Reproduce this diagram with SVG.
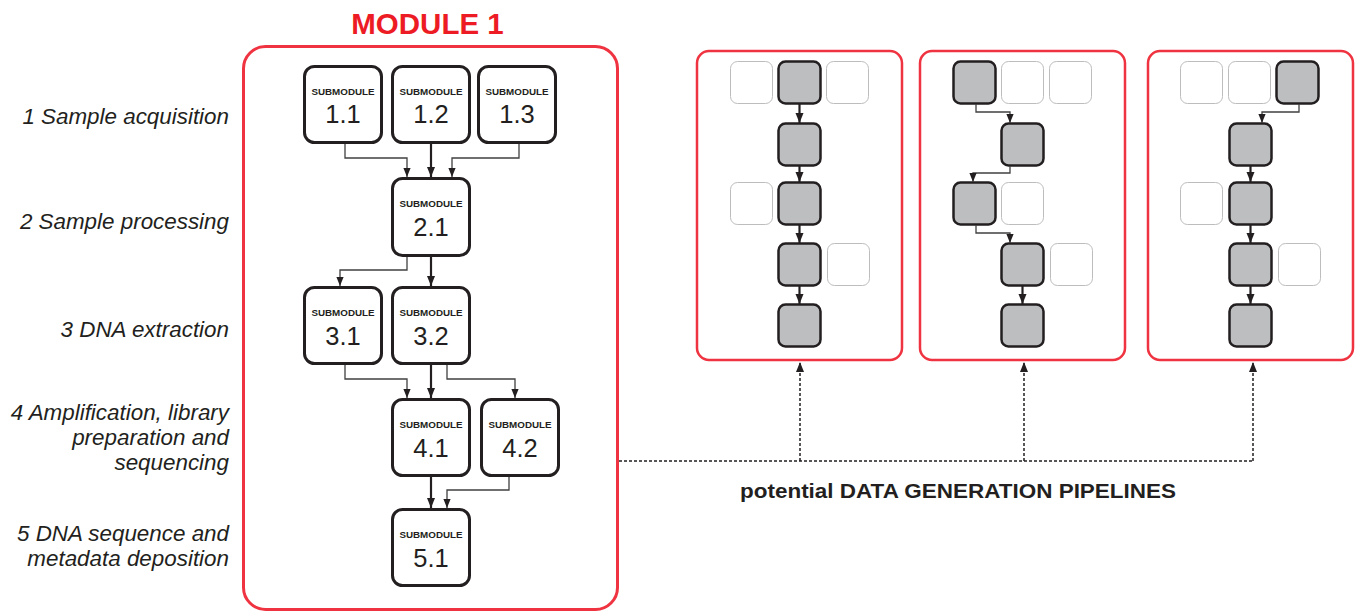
<svg xmlns="http://www.w3.org/2000/svg" width="1360" height="612" viewBox="0 0 1360 612">
<style>
.lbl{font-family:"Liberation Sans",Arial,sans-serif;font-style:italic;font-size:22.4px;fill:#231f20;text-anchor:end}
.sm{fill:#fff;stroke:#231f20;stroke-width:3}
.smt{font-family:"Liberation Sans",Arial,sans-serif;font-weight:bold;font-size:9.8px;fill:#231f20;text-anchor:middle}
.smn{font-family:"Liberation Sans",Arial,sans-serif;font-size:25.5px;fill:#231f20;text-anchor:middle}
.panel{fill:#fff;stroke:#ef3340;stroke-width:2.5}
.g{fill:#bcbec0;stroke:#231f20;stroke-width:2.5}
.w{fill:#fff;stroke:#bdbdbd;stroke-width:1}
.thick{fill:none;stroke:#231f20;stroke-width:2.2}
.thin{fill:none;stroke:#404040;stroke-width:1.3}
.dash{fill:none;stroke:#231f20;stroke-width:1.5;stroke-dasharray:3 2}
</style>
<defs>
<marker id="ah" markerUnits="userSpaceOnUse" markerWidth="10" markerHeight="10" viewBox="0 0 10 10" refX="10" refY="5" orient="auto">
<path d="M0,1 L10,5 L0,9 Z" fill="#231f20"/>
</marker>
<marker id="ahs" markerUnits="userSpaceOnUse" markerWidth="9" markerHeight="9" viewBox="0 0 10 10" refX="10" refY="5" orient="auto">
<path d="M0,1 L10,5 L0,9 Z" fill="#231f20"/>
</marker>
</defs>
<rect width="1360" height="612" fill="#fff"/>

<g id="stage-labels">
<text class="lbl" x="229" y="124">1 Sample acquisition</text>
<text class="lbl" x="229" y="229">2 Sample processing</text>
<text class="lbl" x="229" y="337">3 DNA extraction</text>
<text class="lbl" x="229" y="420">4 Amplification, library</text>
<text class="lbl" x="229" y="445">preparation and</text>
<text class="lbl" x="229" y="470">sequencing</text>
<text class="lbl" x="229" y="541">5 DNA sequence and</text>
<text class="lbl" x="229" y="566">metadata deposition</text>
</g>

<g id="module1">
<text x="427.5" y="34" font-family="'Liberation Sans',Arial,sans-serif" font-weight="bold" font-size="29.5" fill="#ed1c24" text-anchor="middle">MODULE 1</text>
<rect x="243.5" y="46.5" width="374" height="563" rx="22" fill="#fff" stroke="#ef3340" stroke-width="3"/>
</g>

<g id="sub-1-1"><rect class="sm" x="304.5" y="66.5" width="77" height="76" rx="10"/><text class="smt" x="343" y="95">SUBMODULE</text><text class="smn" x="343" y="123">1.1</text></g>
<g id="sub-1-2"><rect class="sm" x="392.5" y="66.5" width="77" height="76" rx="10"/><text class="smt" x="431" y="95">SUBMODULE</text><text class="smn" x="431" y="123">1.2</text></g>
<g id="sub-1-3"><rect class="sm" x="478.5" y="66.5" width="77" height="76" rx="10"/><text class="smt" x="517" y="95">SUBMODULE</text><text class="smn" x="517" y="123">1.3</text></g>
<g id="sub-2-1"><rect class="sm" x="392.5" y="178.5" width="77" height="77" rx="10"/><text class="smt" x="431" y="207">SUBMODULE</text><text class="smn" x="431" y="236">2.1</text></g>
<g id="sub-3-1"><rect class="sm" x="304.5" y="287.5" width="77" height="76" rx="10"/><text class="smt" x="343" y="316">SUBMODULE</text><text class="smn" x="343" y="345">3.1</text></g>
<g id="sub-3-2"><rect class="sm" x="392.5" y="287.5" width="77" height="76" rx="10"/><text class="smt" x="431" y="316">SUBMODULE</text><text class="smn" x="431" y="345">3.2</text></g>
<g id="sub-4-1"><rect class="sm" x="392.5" y="399.5" width="77" height="76" rx="10"/><text class="smt" x="431" y="428">SUBMODULE</text><text class="smn" x="431" y="457">4.1</text></g>
<g id="sub-4-2"><rect class="sm" x="481.5" y="399.5" width="77" height="76" rx="10"/><text class="smt" x="520" y="428">SUBMODULE</text><text class="smn" x="520" y="457">4.2</text></g>
<g id="sub-5-1"><rect class="sm" x="392.5" y="509.5" width="77" height="76" rx="10"/><text class="smt" x="431" y="538">SUBMODULE</text><text class="smn" x="431" y="567">5.1</text></g>

<g id="pipeline-1">
<rect class="panel" x="697" y="51" width="205" height="309" rx="12"/>
<rect class="w" x="730.5" y="61.5" width="42" height="42" rx="7"/>
<rect class="g" x="778.5" y="61.5" width="42" height="42" rx="7"/>
<rect class="w" x="826.5" y="61.5" width="42" height="42" rx="7"/>
<rect class="g" x="778.5" y="123.5" width="42" height="42" rx="7"/>
<rect class="w" x="730.5" y="182.5" width="42" height="42" rx="7"/>
<rect class="g" x="778.5" y="182.5" width="42" height="42" rx="7"/>
<rect class="g" x="778.5" y="243.5" width="42" height="42" rx="7"/>
<rect class="w" x="827.5" y="243.5" width="42" height="42" rx="7"/>
<rect class="g" x="778.5" y="304.5" width="42" height="42" rx="7"/>
</g>
<g id="pipeline-2">
<rect class="panel" x="920" y="51" width="205" height="309" rx="12"/>
<rect class="g" x="953.5" y="61.5" width="42" height="42" rx="7"/>
<rect class="w" x="1001.5" y="61.5" width="42" height="42" rx="7"/>
<rect class="w" x="1049.5" y="61.5" width="42" height="42" rx="7"/>
<rect class="g" x="1001.5" y="123.5" width="42" height="42" rx="7"/>
<rect class="g" x="953.5" y="182.5" width="42" height="42" rx="7"/>
<rect class="w" x="1001.5" y="182.5" width="42" height="42" rx="7"/>
<rect class="g" x="1001.5" y="243.5" width="42" height="42" rx="7"/>
<rect class="w" x="1050.5" y="243.5" width="42" height="42" rx="7"/>
<rect class="g" x="1001.5" y="304.5" width="42" height="42" rx="7"/>
</g>
<g id="pipeline-3">
<rect class="panel" x="1148" y="51" width="205" height="309" rx="12"/>
<rect class="w" x="1180.5" y="61.5" width="42" height="42" rx="7"/>
<rect class="w" x="1228.5" y="61.5" width="42" height="42" rx="7"/>
<rect class="g" x="1276.5" y="61.5" width="42" height="42" rx="7"/>
<rect class="g" x="1229.5" y="123.5" width="42" height="42" rx="7"/>
<rect class="w" x="1180.5" y="182.5" width="42" height="42" rx="7"/>
<rect class="g" x="1229.5" y="182.5" width="42" height="42" rx="7"/>
<rect class="g" x="1229.5" y="243.5" width="42" height="42" rx="7"/>
<rect class="w" x="1278.5" y="243.5" width="42" height="42" rx="7"/>
<rect class="g" x="1229.5" y="304.5" width="42" height="42" rx="7"/>
</g>

<g id="caption">
<text x="958" y="498" font-family="'Liberation Sans',Arial,sans-serif" font-weight="bold" font-size="19.5" fill="#231f20" text-anchor="middle" textLength="436" lengthAdjust="spacingAndGlyphs">potential DATA GENERATION PIPELINES</text>
</g>

<g id="connectors">
<path class="thin" d="M345 144 V158 H407 V177" marker-end="url(#ahs)"/>
<path class="thick" d="M431 144 V177" marker-end="url(#ah)"/>
<path class="thin" d="M519 144 V158 H452 V177" marker-end="url(#ahs)"/>
<path class="thin" d="M407 257 V270 H340 V286" marker-end="url(#ahs)"/>
<path class="thick" d="M431 257 V286" marker-end="url(#ah)"/>
<path class="thin" d="M345 365 V379 H407 V398" marker-end="url(#ahs)"/>
<path class="thick" d="M431 365 V398" marker-end="url(#ah)"/>
<path class="thin" d="M447 365 V379 H515 V398" marker-end="url(#ahs)"/>
<path class="thick" d="M431 477 V508" marker-end="url(#ah)"/>
<path class="thin" d="M509 477 V490 H447 V508" marker-end="url(#ahs)"/>

<path class="thick" d="M799.5 104 V123" marker-end="url(#ah)"/>
<path class="thick" d="M799.5 166 V182" marker-end="url(#ah)"/>
<path class="thick" d="M799.5 225 V243" marker-end="url(#ah)"/>
<path class="thick" d="M799.5 286 V304" marker-end="url(#ah)"/>

<path class="thin" d="M976 104 V112 H1010 V123" marker-end="url(#ahs)"/>
<path class="thin" d="M1010 166 V173 H973 V182" marker-end="url(#ahs)"/>
<path class="thin" d="M976 225 V233 H1010 V243" marker-end="url(#ahs)"/>
<path class="thick" d="M1022.5 286 V304" marker-end="url(#ah)"/>

<path class="thin" d="M1299 104 V112 H1262 V123" marker-end="url(#ahs)"/>
<path class="thick" d="M1250.5 166 V182" marker-end="url(#ah)"/>
<path class="thick" d="M1250.5 225 V243" marker-end="url(#ah)"/>
<path class="thick" d="M1250.5 286 V304" marker-end="url(#ah)"/>

<path class="dash" d="M619 461 H1253"/>
<path class="dash" d="M800 461 V362" marker-end="url(#ah)"/>
<path class="dash" d="M1024 461 V362" marker-end="url(#ah)"/>
<path class="dash" d="M1253 461 V362" marker-end="url(#ah)"/>
</g>
</svg>
